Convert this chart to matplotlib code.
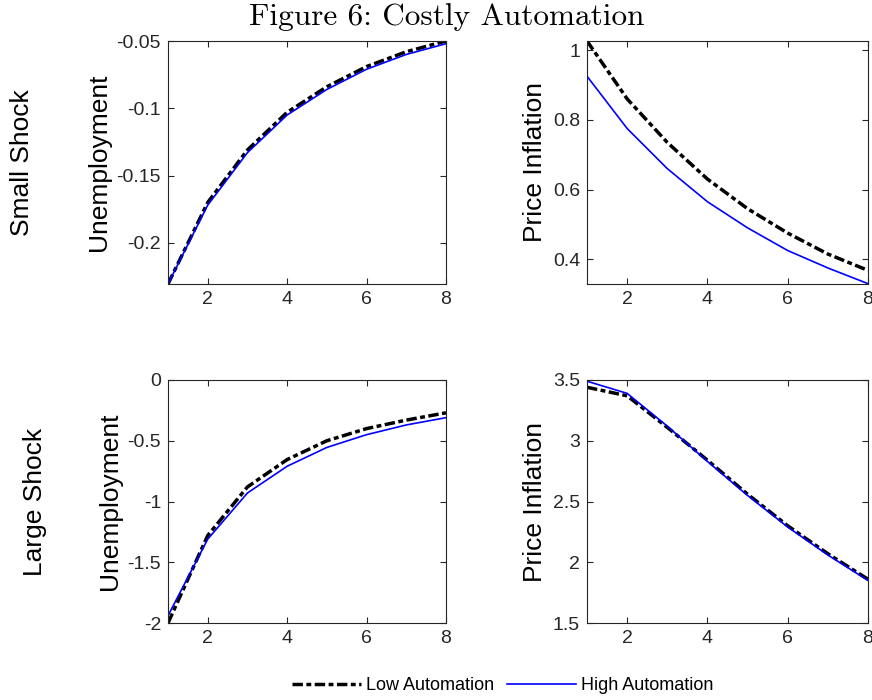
import matplotlib.pyplot as plt
from matplotlib.lines import Line2D

plt.rcParams['font.family'] = ['Liberation Sans', 'DejaVu Sans']

# horizon
periods = [1, 2, 3, 4, 5, 6, 7, 8]

# small shock
unemp_small_low = [-0.2306, -0.170, -0.131, -0.103, -0.084, -0.069, -0.058, -0.050]
unemp_small_high = [-0.2306, -0.172, -0.133, -0.105, -0.086, -0.071, -0.060, -0.052]
infl_small_low = [1.026, 0.86, 0.735, 0.63, 0.545, 0.475, 0.415, 0.368]
infl_small_high = [0.925, 0.775, 0.66, 0.565, 0.49, 0.425, 0.375, 0.33]

# large shock
unemp_large_low = [-2.0, -1.28, -0.88, -0.655, -0.50, -0.40, -0.33, -0.27]
unemp_large_high = [-1.94, -1.31, -0.93, -0.71, -0.555, -0.45, -0.37, -0.31]
infl_large_low = [3.44, 3.37, 3.11, 2.84, 2.56, 2.30, 2.07, 1.86]
infl_large_high = [3.49, 3.39, 3.12, 2.83, 2.55, 2.29, 2.06, 1.85]

row_labels = ['Small Shock', 'Large Shock']
col_labels = ['Unemployment', 'Price Inflation']
series_labels = ['Low Automation', 'High Automation']

W, H = 872, 700
fig = plt.figure(figsize=(W / 100, H / 100), dpi=100)

grey = '#262626'
low_style = dict(color='black', lw=2.5, ls=(0, (3.0, 1.0, 1.4, 1.0)))
high_style = dict(color='#0000ff', lw=1.2, ls='-')


def px_axes(x0, y0, x1, y1):
    return fig.add_axes([x0 / W, 1 - y1 / H, (x1 - x0) / W, (y1 - y0) / H])


panels = [
    ((168, 41, 446, 284), unemp_small_low, unemp_small_high, (-0.2306, -0.05),
     [-0.2, -0.15, -0.1, -0.05], ['-0.2', '-0.15', '-0.1', '-0.05'], col_labels[0]),
    ((587, 41, 868, 284), infl_small_low, infl_small_high, (0.329, 1.026),
     [0.4, 0.6, 0.8, 1.0], ['0.4', '0.6', '0.8', '1'], col_labels[1]),
    ((168, 380, 446, 623), unemp_large_low, unemp_large_high, (-2, 0),
     [-2, -1.5, -1, -0.5, 0], ['-2', '-1.5', '-1', '-0.5', '0'], col_labels[0]),
    ((587, 380, 868, 623), infl_large_low, infl_large_high, (1.5, 3.5),
     [1.5, 2, 2.5, 3, 3.5], ['1.5', '2', '2.5', '3', '3.5'], col_labels[1]),
]

for box, low, high, ylim, yt, ytl, ylab in panels:
    ax = px_axes(*box)
    ax.plot(periods, low, **low_style)
    ax.plot(periods, high, **high_style)
    ax.set_xlim(1, 8)
    ax.set_ylim(*ylim)
    ax.set_xticks([2, 4, 6, 8])
    ax.set_yticks(yt)
    ax.set_yticklabels(ytl)
    ax.tick_params(direction='in', top=True, right=True, length=4, width=0.8,
                   colors=grey, labelsize=14, labelcolor=grey, pad=5)
    for s in ax.spines.values():
        s.set_color(grey)
        s.set_linewidth(0.8)
    ax.set_ylabel(ylab, fontsize=19, color='black', labelpad=4)

# row labels
fig.text(22 / W, 1 - 163 / H, row_labels[0], rotation=90, fontsize=19,
         ha='center', va='center')
fig.text(35 / W, 1 - 502 / H, row_labels[1], rotation=90, fontsize=19,
         ha='center', va='center')

fig.suptitle('Figure 6: Costly Automation', x=447 / W, y=1 - 3 / H, va='top',
             fontsize=22.5, family='cmr10')

handles = [Line2D([], [], **low_style), Line2D([], [], **high_style)]
fig.legend(handles, series_labels, loc='center', bbox_to_anchor=(503 / W, 1 - 686 / H),
           ncol=2, frameon=False, fontsize=13, handlelength=3.8, handletextpad=0.3,
           columnspacing=0.7, borderpad=0)

fig.savefig('out.png', dpi=100)
